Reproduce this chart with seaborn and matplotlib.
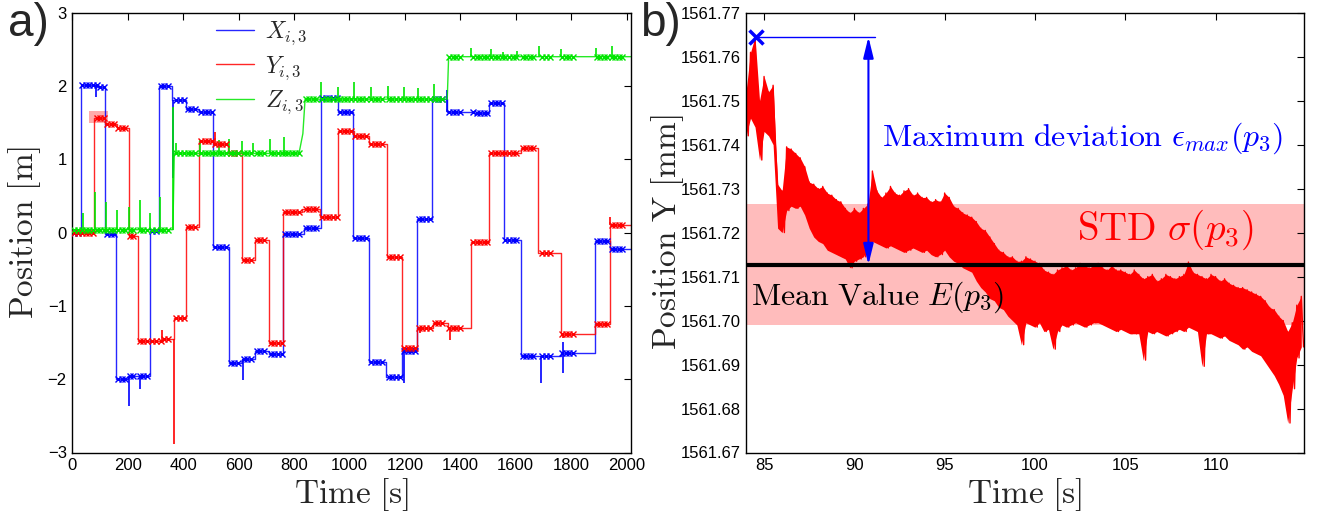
import numpy as np
import matplotlib
matplotlib.use("Agg")
import matplotlib.pyplot as plt
import seaborn as sns
from matplotlib.patches import Rectangle
from matplotlib.ticker import FormatStrFormatter, MultipleLocator

# ---------------- panel a) data ----------------
x_t = [0, 30, 90, 119, 159, 201, 282, 313, 360, 411, 456, 509, 566, 612, 660, 710, 760, 836, 896, 960,
       1013, 1072, 1131, 1191, 1244, 1297, 1351, 1450, 1505, 1557, 1619, 1762, 1886, 1940]
x_v = [0.0, 2.01, 1.99, -0.02, -2.0, -1.95, 0.02, 2.0, 1.81, 1.68, 1.65, -0.2, -1.78, -1.73, -1.62, -1.66,
       -0.02, 0.06, 1.83, 1.65, -0.08, -1.76, -1.97, -1.62, 0.18, 1.82, 1.65, 1.63, 1.77, -0.1, -1.68,
       -1.64, -0.12, -0.23]
y_t = [0, 80, 119, 162, 204, 237, 328, 368, 411, 459, 509, 562, 612, 660, 708, 760, 829, 894, 960, 1015,
       1072, 1136, 1191, 1244, 1302, 1354, 1440, 1505, 1619, 1680, 1762, 1886, 1940]
y_v = [0.0, 1.56, 1.48, 1.43, -0.05, -1.48, -1.45, -1.17, 0.08, 1.25, 1.21, 1.09, -0.38, -0.1, -1.5, 0.28,
       0.32, 0.21, 1.38, 1.32, 1.21, -0.33, -1.58, -1.3, -1.24, -1.3, -0.13, 1.08, 1.16, -0.28, -1.38,
       -1.25, 0.11]
z_t = [0, 363, 368, 818, 832, 840, 1353, 1358, 2015]
z_v = [0.04, 0.04, 1.08, 1.08, 1.35, 1.82, 1.82, 2.40, 2.40]

x_spk_t = [85, 205, 243, 365, 615, 1198, 1351, 1690, 1770, 1770]
x_spk_v = [1.85, -2.36, -2.13, 0.75, -2.01, -2.05, 1.95, -2.05, -1.91, -1.49]
y_spk_t = [322, 367, 514, 1255, 1363, 1772, 1940]
y_spk_v = [-1.33, -2.88, 1.37, -1.37, -1.46, -1.44, 0.21]
z_spk_t = [37, 82, 121, 162, 204, 244, 282, 317, 363, 374, 462, 528, 565, 613, 652, 714, 764,
           898, 959, 1018, 1078, 1140, 1198, 1248, 1306, 1440, 1512, 1553, 1605, 1684, 1762, 1889, 1946]
z_spk_v = [0.27, 0.56, 0.42, 0.31, 0.35, 0.45, 0.27, 0.49, 1.72, 1.22, 1.26, 1.27, 1.28, 1.25, 1.22,
           1.28, 1.30, 2.05, 1.98, 2.05, 1.98, 2.00, 1.98, 1.97, 2.03, 2.52, 2.50, 2.47, 2.48, 2.55,
           2.50, 2.52, 2.55]

# measurement windows (s) in which the poses were sampled (x markers)
mark_windows = [(0, 30), (30, 119), (119, 159), (159, 201), (201, 237), (237, 282), (282, 313),
                (313, 360), (370, 411), (411, 456), (459, 509), (509, 562), (566, 612), (612, 660),
                (660, 708), (710, 760), (760, 829), (836, 894), (896, 960), (960, 1013), (1015, 1072),
                (1072, 1131), (1136, 1191), (1191, 1244), (1244, 1297), (1302, 1351), (1354, 1410),
                (1440, 1505), (1505, 1557), (1557, 1619), (1619, 1680), (1690, 1730), (1762, 1815),
                (1886, 1940), (1940, 2000)]
mark_step = 13

hl_t0, hl_t1, hl_y0, hl_y1 = 62, 130, 1.50, 1.66   # highlighted pose

# ---------------- panel b) data ----------------
tb_start, tb_dt = 84.0, 0.25
y_hi = [1561.752, 1561.761, 1561.7645, 1561.750, 1561.7555, 1561.752, 1561.7535, 1561.731,
        1561.7295, 1561.7395, 1561.739, 1561.738, 1561.737, 1561.735, 1561.7315, 1561.731,
        1561.730, 1561.7305, 1561.729, 1561.7285, 1561.7275, 1561.727, 1561.7255, 1561.7245,
        1561.7255, 1561.7245, 1561.7255, 1561.7265, 1561.734, 1561.7295, 1561.728, 1561.729,
        1561.7305, 1561.729, 1561.7285, 1561.7295, 1561.730, 1561.7285, 1561.729, 1561.728,
        1561.728, 1561.727, 1561.7275, 1561.727, 1561.729, 1561.728, 1561.726, 1561.7255,
        1561.7245, 1561.724, 1561.7235, 1561.7225, 1561.721, 1561.7205, 1561.719, 1561.7175,
        1561.716, 1561.7155, 1561.7145, 1561.7145, 1561.7135, 1561.7135, 1561.7145, 1561.714,
        1561.7135, 1561.713, 1561.7115, 1561.711, 1561.7105, 1561.7115, 1561.712, 1561.7125,
        1561.7115, 1561.712, 1561.713, 1561.7125, 1561.712, 1561.7125, 1561.713, 1561.712,
        1561.7115, 1561.7125, 1561.7115, 1561.7115, 1561.711, 1561.7105, 1561.7115, 1561.7105,
        1561.7095, 1561.710, 1561.7105, 1561.709, 1561.7095, 1561.7105, 1561.710, 1561.7095,
        1561.710, 1561.7105, 1561.7133, 1561.711, 1561.7105, 1561.710, 1561.7095, 1561.7105,
        1561.710, 1561.709, 1561.7095, 1561.7085, 1561.708, 1561.7075, 1561.7075, 1561.707,
        1561.7065, 1561.706, 1561.7055, 1561.7045, 1561.703, 1561.7025, 1561.701, 1561.700,
        1561.6975, 1561.6995, 1561.7035, 1561.7055]
y_lo = [1561.742, 1561.746, 1561.744, 1561.7365, 1561.743, 1561.742, 1561.740, 1561.721,
        1561.720, 1561.725, 1561.726, 1561.7255, 1561.726, 1561.724, 1561.721, 1561.719,
        1561.718, 1561.7175, 1561.716, 1561.7155, 1561.715, 1561.7145, 1561.714, 1561.712,
        1561.7135, 1561.714, 1561.7145, 1561.7165, 1561.718, 1561.7175, 1561.717, 1561.7165,
        1561.717, 1561.7165, 1561.716, 1561.7155, 1561.716, 1561.7165, 1561.716, 1561.7155,
        1561.716, 1561.715, 1561.7145, 1561.715, 1561.716, 1561.7145, 1561.7135, 1561.713,
        1561.712, 1561.7115, 1561.711, 1561.709, 1561.7075, 1561.7065, 1561.705, 1561.7045,
        1561.703, 1561.7025, 1561.701, 1561.700, 1561.699, 1561.6945, 1561.6995, 1561.699,
        1561.6985, 1561.6995, 1561.6975, 1561.698, 1561.6935, 1561.6975, 1561.699, 1561.6985,
        1561.699, 1561.6995, 1561.699, 1561.6985, 1561.699, 1561.6995, 1561.6995, 1561.699,
        1561.6985, 1561.698, 1561.6975, 1561.698, 1561.6975, 1561.697, 1561.697, 1561.697,
        1561.691, 1561.6975, 1561.697, 1561.6975, 1561.697, 1561.6965, 1561.697, 1561.6975,
        1561.698, 1561.6975, 1561.6985, 1561.698, 1561.6975, 1561.6896, 1561.697, 1561.697,
        1561.6965, 1561.696, 1561.6965, 1561.6955, 1561.695, 1561.6945, 1561.6935, 1561.694,
        1561.693, 1561.6925, 1561.692, 1561.6905, 1561.689, 1561.6875, 1561.6855, 1561.683,
        1561.6767, 1561.6845, 1561.6915, 1561.694]
mean_p3 = 1561.7127
std_p3 = 0.0137
arrow_t = 90.78
hline_end_t = 91.14

# ---------------- style ----------------
sns.set_theme(style="white")
plt.rcParams["font.family"] = ["Liberation Sans", "DejaVu Sans"]
plt.rcParams["mathtext.fontset"] = "cm"
plt.rcParams["axes.edgecolor"] = "black"
plt.rcParams["axes.linewidth"] = 1.0

fig = plt.figure(figsize=(13.25, 5.22), dpi=100)
W, H = 1325.0, 522.0
ax1 = fig.add_axes([72.3 / W, (H - 452.5) / H, 558.4 / W, 439.8 / H])
ax2 = fig.add_axes([746 / W, (H - 452.5) / H, 558 / W, 439.8 / H])

def level(ts, vs, t):
    idx = np.searchsorted(np.asarray(ts), np.asarray(t), side="right") - 1
    return np.asarray(vs)[idx]

tmax = 2015
colors = {"X": (0, 0, 1), "Y": (1, 0, 0), "Z": (0, 0.9, 0)}
mark_t = np.concatenate([np.arange(a + 6, b - 4, mark_step) for a, b in mark_windows])

ax1.add_patch(Rectangle((hl_t0, hl_y0), hl_t1 - hl_t0, hl_y1 - hl_y0,
                        facecolor=(1, 0.45, 0.45), alpha=0.6, edgecolor="none", zorder=1))

for name, ts, vs, st, sv in [("X", x_t, x_v, x_spk_t, x_spk_v), ("Y", y_t, y_v, y_spk_t, y_spk_v)]:
    c = colors[name]
    sns.lineplot(x=list(ts) + [tmax], y=list(vs) + [vs[-1]], ax=ax1, color=c, lw=1.0,
                 drawstyle="steps-post", estimator=None, sort=False, alpha=0.85,
                 label=r"$%s_{i,3}$" % name, zorder=2)
    ax1.vlines(st, level(ts, vs, st), sv, color=c, lw=1.2, zorder=2)
    ax1.plot(mark_t, level(ts, vs, mark_t), ls="none", marker="x", ms=5, mew=1.0, color=c, zorder=3)

c = colors["Z"]
sns.lineplot(x=z_t, y=z_v, ax=ax1, color=c, lw=1.0, estimator=None, sort=False, alpha=0.85,
             label=r"$Z_{i,3}$", zorder=2)
z_base = np.interp(z_spk_t, z_t, z_v)
ax1.vlines(z_spk_t, z_base, z_spk_v, color=c, lw=1.2, zorder=2)
ax1.plot(mark_t, np.interp(mark_t, z_t, z_v), ls="none", marker="x", ms=5, mew=1.0, color=c, zorder=3)

ax1.set_xlim(0, tmax)
ax1.set_ylim(-3, 3)
ax1.xaxis.set_major_locator(MultipleLocator(200))
ax1.yaxis.set_major_locator(MultipleLocator(1))
ax1.set_xlabel(r"$\mathrm{Time\ [s]}$", fontsize=24, labelpad=2)
ax1.set_ylabel(r"$\mathrm{Position\ [m]}$", fontsize=24)
ax1.yaxis.set_label_coords(-0.052, 0.5)
ax1.legend(loc="upper left", bbox_to_anchor=(0.258, 0.985), frameon=False, fontsize=17,
           handlelength=1.6, handletextpad=0.45, labelspacing=0.3, borderpad=0, borderaxespad=0)

# ---------------- panel b ----------------
tb = tb_start + tb_dt * np.arange(len(y_hi))
t_line = np.ravel(np.column_stack([tb, tb + tb_dt / 2]))
y_line = np.ravel(np.column_stack([y_hi, y_lo]))

ax2.axhspan(mean_p3 - std_p3, mean_p3 + std_p3, color="#ffbcbc", lw=0, zorder=0)
ax2.fill_between(tb, y_lo, y_hi, color="red", lw=0, zorder=2)
sns.lineplot(x=t_line, y=y_line, ax=ax2, color="red", lw=1.0, estimator=None, sort=False, zorder=2)
ax2.axhline(mean_p3, color="black", lw=3.0, zorder=3)

imax = int(np.argmax(y_hi))
t_max, y_max = tb[imax] + 0.06, y_hi[imax]
ax2.plot([t_max, hline_end_t], [y_max, y_max], color="blue", lw=1.0, zorder=4)
ax2.plot([t_max], [y_max], marker="x", ms=10, mew=2.5, color="blue", zorder=5)
ax2.annotate("", xy=(arrow_t, mean_p3), xytext=(arrow_t, y_max),
             arrowprops=dict(arrowstyle="<|-|>,head_length=0.9,head_width=0.22", color="blue",
                             lw=1.5, shrinkA=0, shrinkB=0, mutation_scale=14), zorder=5)

ax2.text(91.55, 1561.7415, r"$\mathrm{Maximum\ deviation}\ \epsilon_{max}(p_3)$", color="blue",
         fontsize=23, ha="left", va="center", zorder=6)
ax2.text(102.35, 1561.7206, r"$\mathrm{STD}\ \sigma(p_3)$", color="red",
         fontsize=28, ha="left", va="center", zorder=6)
ax2.text(84.3, 1561.7052, r"$\mathrm{Mean\ Value}\ E(p_3)$", color="black",
         fontsize=23, ha="left", va="center", zorder=6)

ax2.set_xlim(84.0, 114.9)
ax2.set_ylim(1561.67, 1561.77)
ax2.xaxis.set_major_locator(MultipleLocator(5))
ax2.yaxis.set_major_locator(MultipleLocator(0.01))
ax2.yaxis.set_major_formatter(FormatStrFormatter("%.2f"))
ax2.set_xlabel(r"$\mathrm{Time\ [s]}$", fontsize=24, labelpad=2)
ax2.set_ylabel(r"$\mathrm{Position\ Y\ [mm]}$", fontsize=24)
ax2.yaxis.set_label_coords(-0.108, 0.5)

for ax in (ax1, ax2):
    ax.tick_params(direction="in", length=5, width=0.8, top=True, right=True,
                   labelsize=12, pad=4, colors="black")
    for s in ax.spines.values():
        s.set_visible(True)
        s.set_color("black")
        s.set_linewidth(1.0)
    ax.grid(False)

fig.text(8 / W, 1 - 2 / H, "a)", fontsize=33, ha="left", va="top")
fig.text(640 / W, 1 - 2 / H, "b)", fontsize=33, ha="left", va="top")

fig.savefig("out.png", dpi=100)
